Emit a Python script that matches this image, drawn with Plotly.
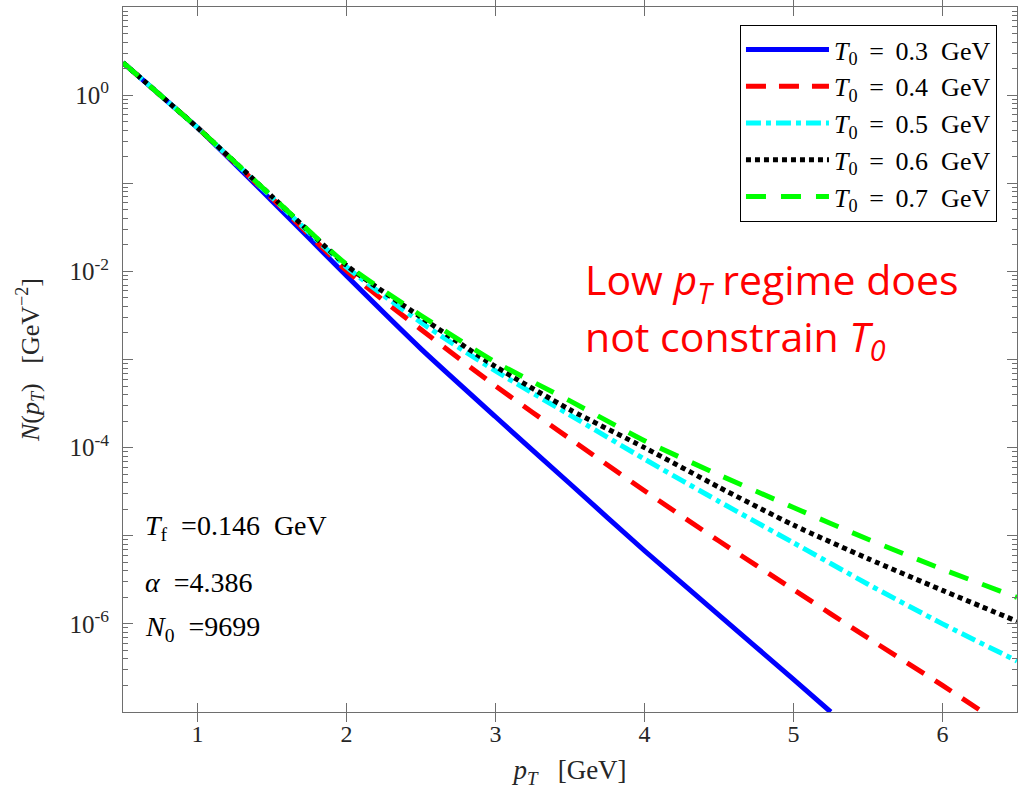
import plotly.graph_objects as go

# ---- data ----
x_blue = [0.5, 0.75, 1.0, 1.5, 2.0, 2.5, 3.0, 3.5, 4.0, 4.5, 5.0, 5.25]
y_blue = [2.34, 1.0, 0.427, 0.0631, 8.9e-3, 1.32e-3, 2.24e-4, 3.89e-5, 6.76e-6, 1.26e-6, 2.34e-7, 1.0e-7]

x_red = [0.5, 0.75, 1.0, 1.5, 2.0, 2.5, 3.0, 3.5, 4.0, 4.5, 5.0, 5.5, 6.0, 6.27]
y_red = [2.34, 1.0, 0.427, 0.0676, 1.02e-2, 2.19e-3, 5.01e-4, 1.26e-4, 3.24e-5, 8.71e-6, 2.45e-6, 6.92e-7, 2.0e-7, 1.0e-7]

x_all = [0.5, 0.75, 1.0, 1.5, 2.0, 2.5, 3.0, 3.5, 4.0, 4.5, 5.0, 5.5, 6.0, 6.5]
y_cyan = [2.34, 1.0, 0.427, 0.0692, 1.12e-2, 2.63e-3, 7.41e-4, 2.34e-4, 7.41e-5, 2.45e-5, 8.32e-6, 2.82e-6, 1.0e-6, 3.8e-7]
y_black = [2.34, 1.0, 0.427, 0.0708, 1.17e-2, 3.02e-3, 8.32e-4, 2.69e-4, 1.0e-4, 3.55e-5, 1.32e-5, 5.5e-6, 2.4e-6, 1.07e-6]
y_green = [2.34, 1.0, 0.427, 0.0708, 1.2e-2, 3.16e-3, 9.33e-4, 3.39e-4, 1.2e-4, 4.9e-5, 2.09e-5, 9.12e-6, 4.17e-6, 2.0e-6]

T0_labels = ["0.3", "0.4", "0.5", "0.6", "0.7"]
x_ticks = [1, 2, 3, 4, 5, 6]
y_label_exponents = [-6, -4, -2, 0]
y_other_exponents = [-7, -5, -3, -1, 1]

# ---- figure ----
serif = "Liberation Serif"
axis_col = "#6e6e6e"
txt_col = "#262626"
THIN = "\u2009"
NBSP = "\u00a0"
series = [
    (x_blue, y_blue, "#0000ff", "solid"),
    (x_red, y_red, "#ff0000", "20px,13px"),
    (x_all, y_cyan, "#00ffff", "15px,5px,5px,5px"),
    (x_all, y_black, "#000000", "5px,4px"),
    (x_all, y_green, "#00ff00", "20px,15px"),
]

fig = go.Figure()
for (xs, ys, col, dash), lab in zip(series, T0_labels):
    fig.add_trace(go.Scatter(
        x=xs, y=ys, mode="lines",
        line=dict(color=col, width=5, dash=dash, shape="spline", smoothing=0.6),
        name=f"<i>T</i><sub>0</sub>{THIN} = {THIN}{lab}{NBSP} GeV",
    ))

# invisible helper trace so the overlay axis carries the unlabeled decade ticks
fig.add_trace(go.Scatter(x=[x_all[0]], y=[y_green[0]], yaxis="y2", mode="lines",
                         showlegend=False, hoverinfo="skip", line=dict(width=0)))

ytickvals = [10.0 ** k for k in y_label_exponents]
yticktext = [f"10<sup>{k}</sup>" for k in y_label_exponents]
ytick_other = [10.0 ** k for k in y_other_exponents]
yminor = [m * 10.0 ** k for k in range(-7, 1) for m in range(2, 10)]

fig.update_layout(
    width=1019, height=794,
    margin=dict(l=123, r=2, t=7, b=82),
    paper_bgcolor="white", plot_bgcolor="white",
    font=dict(family=serif, size=24, color=txt_col),
    showlegend=True,
    legend=dict(
        x=0.9776, y=0.9745, xanchor="right", yanchor="top",
        bgcolor="white", bordercolor="#000000", borderwidth=1,
        font=dict(family=serif, size=26, color="#000000"),
        itemwidth=83, tracegroupgap=0,
    ),
    xaxis=dict(
        range=[0.5, 6.5], tickvals=x_ticks, automargin=False,
        ticks="inside", ticklen=9, tickcolor=axis_col,
        showline=True, linecolor=axis_col, linewidth=1, mirror="allticks",
        showgrid=False, zeroline=False,
        tickfont=dict(family=serif, size=24, color=txt_col),
        title=dict(text="<i>p</i><sub><i>T</i></sub>&nbsp;  [GeV]", standoff=14,
                   font=dict(family=serif, size=27, color=txt_col)),
    ),
    yaxis=dict(
        type="log", range=[-7, 1], automargin=False,
        tickvals=ytickvals, ticktext=yticktext, ticklabelstandoff=8,
        ticks="inside", ticklen=10, tickcolor=axis_col,
        minor=dict(tickvals=yminor, ticks="inside", ticklen=5, tickcolor=axis_col),
        showline=True, linecolor=axis_col, linewidth=1, mirror="allticks",
        showgrid=False, zeroline=False,
        tickfont=dict(family=serif, size=25, color=txt_col),
        title=dict(text="<i>N</i>(<i>p</i><sub><i>T</i></sub>)&nbsp;  [GeV<sup>−2</sup>]", standoff=22,
                   font=dict(family=serif, size=26, color=txt_col)),
    ),
    yaxis2=dict(
        type="log", range=[-7, 1], overlaying="y", anchor="x", side="left",
        tickvals=ytick_other, showticklabels=False, automargin=False,
        ticks="inside", ticklen=10, tickcolor=axis_col, mirror="allticks",
        showline=False, showgrid=False, zeroline=False,
    ),
)

param_texts = [
    ("<i>T</i><sub>f</sub>&nbsp; =0.146&nbsp; GeV", 0.262),
    ("<i>α</i>&nbsp; =4.386", 0.183),
    ("<i>N</i><sub>0</sub>&nbsp; =9699", 0.119),
]
for txt, yy in param_texts:
    fig.add_annotation(x=0.022, y=yy, xref="paper", yref="paper", text=txt,
                       showarrow=False, xanchor="left", yanchor="middle",
                       font=dict(family=serif, size=28, color="#000000"))

fig.add_annotation(x=0.515, y=0.610, xref="paper", yref="paper",
                   text="Low <i>p<sub>T</sub></i> regime does", showarrow=False,
                   xanchor="left", yanchor="middle",
                   font=dict(family="Open Sans", size=41, color="#ff0000"))
fig.add_annotation(x=0.515, y=0.530, xref="paper", yref="paper",
                   text="not constrain <i>T<sub>0</sub></i>", showarrow=False,
                   xanchor="left", yanchor="middle",
                   font=dict(family="Open Sans", size=41, color="#ff0000"))

fig.write_html("out.html", config={"displayModeBar": False},
               post_script="document.body.style.margin='0px';")
